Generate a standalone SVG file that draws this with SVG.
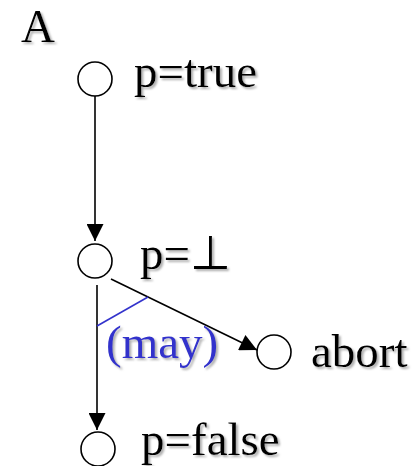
<svg xmlns="http://www.w3.org/2000/svg" width="418" height="466" viewBox="0 0 418 466">
<defs>
<style>
.txt{font-family:"Liberation Serif","Times New Roman",serif;font-size:47px;fill:#000;filter:url(#sh)}
.blue{fill:#3333cc}
.node{fill:#fff;stroke:#000;stroke-width:1.6}
.edge{stroke:#000;stroke-width:1.6;fill:none}
</style>
<filter id="sh" x="-10%" y="-10%" width="130%" height="140%">
<feDropShadow dx="2" dy="2" stdDeviation="0.8" flood-color="#999" flood-opacity="0.8"/>
</filter>
<marker id="arr" viewBox="0 0 10 10" refX="10" refY="5" markerUnits="userSpaceOnUse" markerWidth="20" markerHeight="17" orient="auto">
<path d="M0,0 L10,5 L0,10 z" fill="#000"/>
</marker>
</defs>
<rect width="418" height="466" fill="#fff"/>
<text class="txt" x="21" y="42">A</text>
<g id="connectors">
<line class="edge" x1="95" y1="96" x2="95" y2="241" marker-end="url(#arr)"/>
<line class="edge" x1="111" y1="279" x2="257" y2="350" marker-end="url(#arr)"/>
<line class="edge" x1="97" y1="285" x2="97" y2="430" marker-end="url(#arr)"/>
<line x1="97" y1="326" x2="148" y2="297" stroke="#3333cc" stroke-width="1.6"/>
<text class="txt blue" x="106" y="358">(may)</text>
</g>
<g id="n1">
<circle class="node" cx="95" cy="79" r="17"/>
<text class="txt" x="134" y="87">p=true</text>
</g>
<g id="n2">
<circle class="node" cx="95" cy="261" r="17"/>
<text class="txt" x="140" y="269">p=⊥</text>
</g>
<g id="n3">
<circle class="node" cx="274" cy="352" r="17"/>
<text class="txt" x="311" y="367">abort</text>
</g>
<g id="n4">
<circle class="node" cx="98" cy="449" r="17"/>
<text class="txt" x="141" y="455">p=false</text>
</g>
</svg>
